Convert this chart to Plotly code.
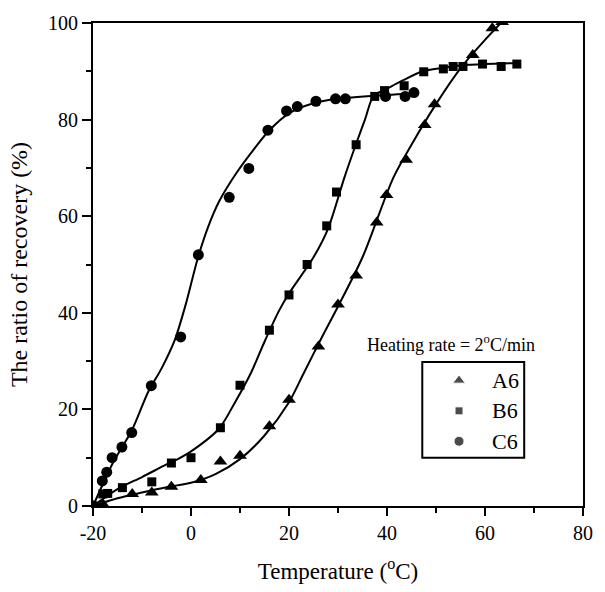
import plotly.graph_objects as go

a6_x = [-20, -18, -12, -8, -4, 2, 6, 10, 16, 20, 26, 30, 33.7, 37.9, 39.9, 43.9, 47.7, 49.7, 57.5, 61.5, 63.5]
a6_y = [0, 0.4, 2.5, 2.8, 4.0, 5.4, 9.2, 10.4, 16.5, 22, 33.0, 41.7, 47.7, 58.7, 64.4, 71.7, 78.9, 83.2, 93.4, 98.9, 100.2]

b6_x = [-20, -18, -17, -14, -8, -4, 0, 6, 10, 16, 20, 23.7, 27.7, 29.7, 33.7, 37.5, 39.5, 43.5, 47.5, 51.5, 53.5, 55.5, 59.5, 63.3, 66.5]
b6_y = [0, 2.5, 2.6, 3.8, 5.0, 8.9, 10.0, 16.2, 25.0, 36.4, 43.7, 50.0, 58.0, 65.0, 74.8, 84.8, 86.0, 87.0, 89.9, 90.5, 91.0, 91.0, 91.5, 91.0, 91.5]

c6_x = [-20, -18.1, -17.2, -16.1, -14.1, -12.1, -8.1, -2.1, 1.5, 7.8, 11.8, 15.7, 19.5, 21.7, 25.5, 29.5, 31.5, 39.7, 43.7, 45.5]
c6_y = [0, 5.2, 7.0, 10.0, 12.2, 15.2, 24.9, 35.0, 52.0, 63.9, 69.9, 77.8, 81.8, 82.7, 83.8, 84.3, 84.3, 84.8, 84.8, 85.6]

# fitted curves (knots)
a6_fit_x = [-20, -15, -10, -5, 0, 5, 10, 15, 20, 23, 27, 30, 35, 41.3, 45, 50, 55.3, 60, 64]
a6_fit_y = [0, 1.6, 2.8, 3.9, 4.8, 6.6, 9.7, 14.6, 21.5, 27.5, 35.5, 41.3, 51.5, 68.0, 74.8, 83.2, 91.0, 96.5, 100.8]

b6_fit_x = [-20, -15, -10, -5, -2.7, 0, 5.7, 9, 12.3, 15, 18, 20, 25, 28, 31.3, 33.7, 35.5, 37.3, 39.3, 43, 47.3, 51.3, 55, 60, 67]
b6_fit_y = [0, 3.5, 6.0, 8.6, 9.7, 11.3, 16.0, 21.5, 27.7, 34.0, 40.5, 44.0, 51.5, 57.5, 68.0, 75.0, 80.0, 85.0, 86.0, 88.0, 90.0, 90.7, 91.2, 91.5, 91.7]

c6_fit_x = [-20, -18, -16, -14, -12, -8.7, -6, -3.3, -1, 1.3, 3.5, 5.7, 9.3, 12.7, 16, 20, 25, 30, 40, 45.3]
c6_fit_y = [0, 4.5, 8.8, 12.3, 15.8, 23.7, 28.5, 34.4, 42.0, 51.0, 57.8, 63.0, 69.0, 73.7, 77.8, 81.3, 83.4, 84.3, 85.1, 85.4]

series_names = ["A6", "B6", "C6"]
symbols = ["triangle-up", "square", "circle"]
sizes = [12, 9, 11]

FONT = "Liberation Serif, Times New Roman, Times, serif"

fig = go.Figure()

for fx, fy in [(a6_fit_x, a6_fit_y), (b6_fit_x, b6_fit_y), (c6_fit_x, c6_fit_y)]:
    fig.add_trace(go.Scatter(x=fx, y=fy, mode="lines", line=dict(color="black", width=2, shape="spline", smoothing=0.8),
                             showlegend=False, hoverinfo="skip"))

for (x, y), nm, sym, sz in zip([(a6_x, a6_y), (b6_x, b6_y), (c6_x, c6_y)], series_names, symbols, sizes):
    fig.add_trace(go.Scatter(x=x, y=y, mode="markers", name=nm,
                             marker=dict(symbol=sym, size=sz, color="black", line=dict(width=0)),
                             showlegend=False))

# custom legend on an overlay axis (0..1 within plot area)
leg_y = [0.26, 0.197, 0.134]
fig.add_trace(go.Scatter(x=[0.747] * 3, y=leg_y, mode="markers", xaxis="x2", yaxis="y2",
                         marker=dict(symbol=symbols, size=[11, 8, 10], color="black"),
                         showlegend=False, hoverinfo="skip"))
for yy, nm in zip(leg_y, series_names):
    fig.add_annotation(x=0.81, y=yy, xref="x2", yref="y2", text=nm, showarrow=False,
                       xanchor="left", yanchor="middle", font=dict(family=FONT, size=22, color="black"))
fig.add_shape(type="rect", xref="x2", yref="y2", x0=0.672, x1=0.88, y0=0.10, y1=0.298,
              line=dict(color="black", width=2))
fig.add_annotation(x=0.731, y=0.337, xref="x2", yref="y2", text="Heating rate = 2<sup>o</sup>C/min",
                   showarrow=False, xanchor="center", yanchor="middle",
                   font=dict(family=FONT, size=18, color="black"))

fig.update_layout(
    width=605, height=592,
    margin=dict(l=93, r=12, t=19, b=74),
    plot_bgcolor="white", paper_bgcolor="white",
    font=dict(family=FONT, color="black", size=20),
    xaxis=dict(range=[-20, 80], tickvals=[-20, 0, 20, 40, 60, 80], ticktext=["-20", "0", "20", "40", "60", "80"],
               ticks="outside", ticklen=8, tickwidth=2, tickcolor="black",
               minor=dict(dtick=10, tick0=-20, ticks="outside", ticklen=5, tickwidth=2, tickcolor="black"),
               showline=True, linecolor="black", linewidth=2, mirror=True, showgrid=False, zeroline=False,
               title=dict(text="Temperature (<sup>o</sup>C)", font=dict(family=FONT, size=23), standoff=20),
               tickfont=dict(family=FONT, size=20)),
    yaxis=dict(range=[0, 100], tickvals=[0, 20, 40, 60, 80, 100],
               ticks="outside", ticklen=9, tickwidth=2, tickcolor="black",
               minor=dict(dtick=10, tick0=0, ticks="outside", ticklen=5, tickwidth=2, tickcolor="black"),
               showline=True, linecolor="black", linewidth=2, mirror=True, showgrid=False, zeroline=False,
               title=dict(text="The ratio of recovery (%)", font=dict(family=FONT, size=24), standoff=14),
               tickfont=dict(family=FONT, size=20)),
    xaxis2=dict(range=[0, 1], overlaying="x", visible=False, domain=[0, 1]),
    yaxis2=dict(range=[0, 1], overlaying="y", visible=False),
)

fig.write_html("out.html")
